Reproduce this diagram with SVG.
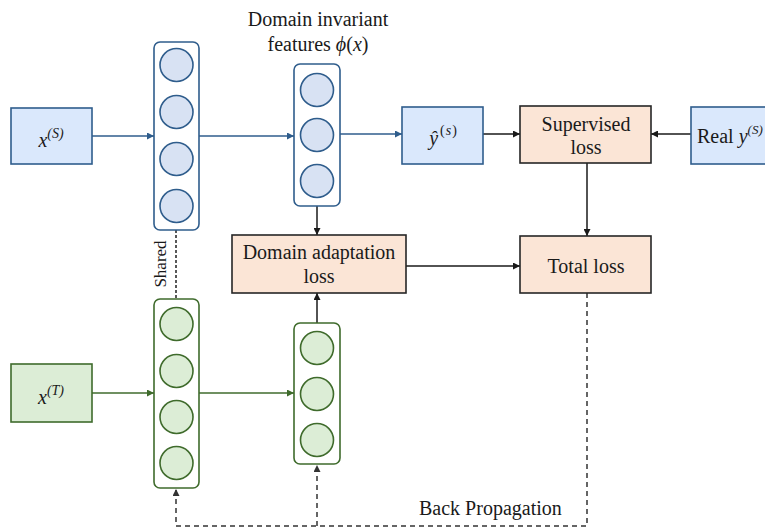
<svg xmlns="http://www.w3.org/2000/svg" width="765" height="528" viewBox="0 0 765 528">
  <style>
    text { font-family: "Liberation Serif", "Times New Roman", serif; fill: #1a1a1a; }
    .lbl { font-size: 20px; text-anchor: middle; }
    .math { font-style: italic; }
    .src { fill: #dae8fc; stroke: #2f5d8c; stroke-width: 1.6; }
    .srcNet { fill: #ffffff; stroke: #2f5d8c; stroke-width: 1.6; }
    .srcUnit { fill: #d8e2f3; stroke: #2f5d8c; stroke-width: 1.6; }
    .tgt { fill: #dcedd6; stroke: #3f6b2c; stroke-width: 1.6; }
    .tgtNet { fill: #ffffff; stroke: #3f6b2c; stroke-width: 1.6; }
    .tgtUnit { fill: #dcedd6; stroke: #3f6b2c; stroke-width: 1.6; }
    .loss { fill: #fbe5d6; stroke: #262626; stroke-width: 1.6; }
    .wire { fill: none; stroke-width: 1.5; }
    .blue { stroke: #2f5d8c; }
    .green { stroke: #3f6b2c; }
    .black { stroke: #1a1a1a; }
    .dash { fill: none; stroke: #333333; stroke-width: 1.5; stroke-dasharray: 5 4; }
    .dashFine { fill: none; stroke: #222222; stroke-width: 1.5; stroke-dasharray: 3 2; }
  </style>
  <defs>
    <marker id="ahBlue" viewBox="0 0 10 10" refX="10" refY="5" markerWidth="9" markerHeight="7" markerUnits="userSpaceOnUse" orient="auto">
      <path d="M0,0 L10,5 L0,10 Z" fill="#2f5d8c"/>
    </marker>
    <marker id="ahGreen" viewBox="0 0 10 10" refX="10" refY="5" markerWidth="9" markerHeight="7" markerUnits="userSpaceOnUse" orient="auto">
      <path d="M0,0 L10,5 L0,10 Z" fill="#3f6b2c"/>
    </marker>
    <marker id="ahBlack" viewBox="0 0 10 10" refX="10" refY="5" markerWidth="9" markerHeight="7" markerUnits="userSpaceOnUse" orient="auto">
      <path d="M0,0 L10,5 L0,10 Z" fill="#1a1a1a"/>
    </marker>
    <marker id="ahGray" viewBox="0 0 10 10" refX="10" refY="5" markerWidth="9" markerHeight="7" markerUnits="userSpaceOnUse" orient="auto">
      <path d="M0,0 L10,5 L0,10 Z" fill="#333333"/>
    </marker>
  </defs>

  <!-- connectors -->
  <g id="connectors">
    <line class="wire blue" x1="92" y1="136" x2="154" y2="136" marker-end="url(#ahBlue)"/>
    <line class="wire blue" x1="199" y1="136" x2="294" y2="136" marker-end="url(#ahBlue)"/>
    <line class="wire blue" x1="340" y1="134" x2="402" y2="134" marker-end="url(#ahBlue)"/>
    <line class="wire black" x1="483" y1="134" x2="520" y2="134" marker-end="url(#ahBlack)"/>
    <line class="wire black" x1="691" y1="134" x2="651" y2="134" marker-end="url(#ahBlack)"/>
    <line class="wire black" x1="587" y1="163" x2="587" y2="236" marker-end="url(#ahBlack)"/>
    <line class="wire black" x1="317" y1="206" x2="317" y2="235" marker-end="url(#ahBlack)"/>
    <line class="wire black" x1="406" y1="266" x2="520" y2="266" marker-end="url(#ahBlack)"/>
    <line class="wire black" x1="317" y1="323" x2="317" y2="293" marker-end="url(#ahBlack)"/>
    <line class="wire green" x1="92" y1="393" x2="154" y2="393" marker-end="url(#ahGreen)"/>
    <line class="wire green" x1="199" y1="393" x2="294" y2="393" marker-end="url(#ahGreen)"/>
    <!-- weight sharing between the two encoders -->
    <line class="dashFine" x1="176" y1="230" x2="176" y2="299"/>
    <!-- back propagation path -->
    <polyline class="dash" points="587,293 587,526 176,526 176,489" marker-end="url(#ahGray)"/>
    <polyline class="dash" points="317,526 317,465" marker-end="url(#ahGray)"/>
  </g>

  <!-- source input -->
  <g id="xs">
    <rect class="src" x="11" y="108" width="81" height="56"/>
    <text class="lbl math" x="51" y="147" font-size="19">x<tspan font-size="14" dy="-9">(S)</tspan></text>
  </g>

  <!-- source encoder -->
  <g id="encoderS">
    <rect class="srcNet" x="154" y="42" width="45" height="188" rx="6"/>
    <circle class="srcUnit" cx="176.5" cy="65" r="16.5"/>
    <circle class="srcUnit" cx="176.5" cy="112" r="16.5"/>
    <circle class="srcUnit" cx="176.5" cy="159" r="16.5"/>
    <circle class="srcUnit" cx="176.5" cy="206" r="16.5"/>
  </g>

  <!-- source features -->
  <g id="featuresS">
    <rect class="srcNet" x="294" y="64" width="46" height="142" rx="6"/>
    <circle class="srcUnit" cx="317" cy="90" r="16.5"/>
    <circle class="srcUnit" cx="317" cy="135" r="16.5"/>
    <circle class="srcUnit" cx="317" cy="181" r="16.5"/>
  </g>

  <g id="featuresLabel">
    <text class="lbl" x="318" y="26">Domain invariant</text>
    <text class="lbl" x="318" y="51">features <tspan class="math">ϕ</tspan>(<tspan class="math">x</tspan>)</text>
  </g>

  <!-- source prediction -->
  <g id="yhat">
    <rect class="src" x="402" y="107" width="81" height="57"/>
    <text class="lbl math" x="443" y="145" font-size="20">ŷ<tspan font-size="14" dy="-10" dx="2" font-style="normal">(</tspan><tspan font-size="14" dx="1">s</tspan><tspan font-size="14" dx="1" font-style="normal">)</tspan></text>
  </g>

  <g id="supervised">
    <rect class="loss" x="520" y="106" width="131" height="57"/>
    <text class="lbl" x="586" y="131">Supervised</text>
    <text class="lbl" x="586" y="154">loss</text>
  </g>

  <g id="realY">
    <rect class="src" x="691" y="107" width="90" height="57"/>
    <text x="697" y="143" font-size="20">Real <tspan class="math">y</tspan><tspan class="math" font-size="13" dy="-9">(S)</tspan></text>
  </g>

  <g id="totalLoss">
    <rect class="loss" x="520" y="236" width="131" height="57"/>
    <text class="lbl" x="586" y="273">Total loss</text>
  </g>

  <g id="daLoss">
    <rect class="loss" x="232" y="235" width="174" height="58"/>
    <text class="lbl" x="319" y="259">Domain adaptation</text>
    <text class="lbl" x="319" y="283">loss</text>
  </g>

  <g id="sharedLabel">
    <text font-size="17" text-anchor="middle" transform="translate(166,264) rotate(-90)">Shared</text>
  </g>

  <!-- target input -->
  <g id="xt">
    <rect class="tgt" x="11" y="364" width="81" height="58"/>
    <text class="lbl math" x="51" y="404" font-size="19">x<tspan font-size="14" dy="-9">(T)</tspan></text>
  </g>

  <!-- target encoder -->
  <g id="encoderT">
    <rect class="tgtNet" x="154" y="299" width="45" height="189" rx="6"/>
    <circle class="tgtUnit" cx="176.5" cy="324" r="16.5"/>
    <circle class="tgtUnit" cx="176.5" cy="371" r="16.5"/>
    <circle class="tgtUnit" cx="176.5" cy="417" r="16.5"/>
    <circle class="tgtUnit" cx="176.5" cy="463" r="16.5"/>
  </g>

  <!-- target features -->
  <g id="featuresT">
    <rect class="tgtNet" x="294" y="323" width="46" height="141" rx="6"/>
    <circle class="tgtUnit" cx="317" cy="348" r="16.5"/>
    <circle class="tgtUnit" cx="317" cy="394" r="16.5"/>
    <circle class="tgtUnit" cx="317" cy="440" r="16.5"/>
  </g>

  <g id="backPropLabel">
    <text x="419" y="515" font-size="20">Back Propagation</text>
  </g>
</svg>
